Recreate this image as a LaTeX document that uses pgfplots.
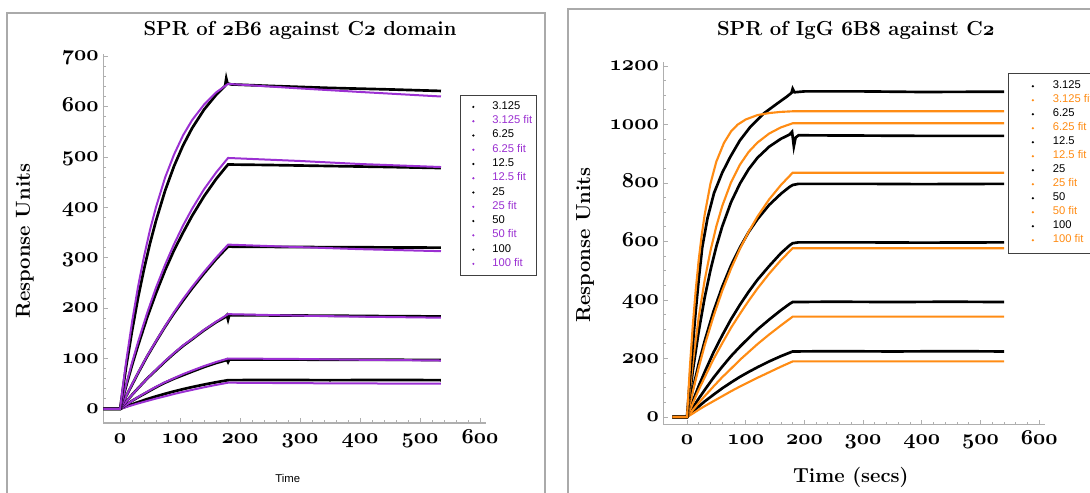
\RequirePackage{fix-cm}
\documentclass[border=0pt]{standalone}
\usepackage{fontspec}
\usepackage{pgfplots}
\pgfplotsset{compat=1.18}
\newfontfamily\arial{Liberation Sans}
\definecolor{purp}{RGB}{155,48,210}
\definecolor{orng}{RGB}{255,140,20}
\definecolor{axgray}{RGB}{175,175,175}
\definecolor{framegray}{RGB}{170,170,170}
\newcommand\osn[1]{{\boldmath$\mathnormal{#1}$}}
\newcommand\bigbf{\bfseries\fontsize{15.2}{18}\selectfont}
\pgfplotsset{
  sprbase/.style={
    scale only axis,
    axis x line*=bottom, axis y line*=left,
    xtick pos=bottom, ytick pos=left,
    axis line style={-, axgray, line width=0.8pt},
    tick align=inside,
    major tick length=3.5pt, minor tick length=2pt,
    tick style={axgray, line width=0.6pt},
    /pgf/number format/1000 sep={},
    xticklabel={\osn{\pgfmathprintnumber{\tick}}},
    yticklabel={\osn{\pgfmathprintnumber{\tick}}},
    tick label style={font=\fontsize{16}{19}\selectfont},
    xticklabel style={text height=11.5pt, text depth=3pt},
    yticklabel style={text height=7.1pt, text depth=0pt},
    legend cell align=left,
  },
}
\begin{document}
\begin{tikzpicture}[x=0.75pt, y=0.75pt]
\draw[framegray, line width=1.5pt] (7,-20) rectangle (545,480);
\draw[framegray, line width=1.5pt] (568,-20) rectangle (1110,483.7);
% ---------------- left panel ----------------
\begin{axis}[sprbase,
  at={(77.475pt,52.5pt)}, anchor=south west,
  width=287pt, height=277pt,
  xmin=-28, xmax=610, ymin=-28, ymax=705,
  xtick={0,100,...,600}, ytick={0,100,...,700},
  minor x tick num=4, minor y tick num=4,
  title={SPR of \osn{2}B\osn{6} against C\osn{2} domain},
  title style={at={(axis description cs:0.514,1.040)}, anchor=center, yshift=0pt, font=\bigbf},
  ylabel={\bigbf Response Units},
  every axis y label/.style={at={(axis description cs:-0.2046,0.492)}, anchor=center, rotate=90, font=\bigbf},
  xlabel={Time},
  xlabel style={at={(axis description cs:0.482,-0.1505)}, anchor=center, font=\arial\fontsize{8.5}{10}\selectfont},
  dat/.style={black, line width=2pt, no markers,
    legend image code/.code={\path[draw=none,fill=none] (-6.75pt,0pt) -- (14.25pt,0pt); \fill[black, draw=none] (0pt,0pt) circle (0.9pt);}},
  fit/.style={purp, line width=1.5pt, no markers,
    legend image code/.code={\path[draw=none,fill=none] (-6.75pt,0pt) -- (14.25pt,0pt); \fill[purp, draw=none] (0pt,0pt) circle (0.9pt);}},
  legend style={at={(0.932,0.887)}, anchor=north west, draw=black!75, line width=0.6pt, fill=white,
    inner xsep=3pt, inner ysep=3pt, font=\arial\fontsize{8.4}{10}\selectfont,
    nodes={inner sep=0pt, text height=7.2pt, text depth=3.5pt}},
]
\addplot[dat] coordinates {(-28,0)(0,0)(10,4.7)(20,9.1)(30,13.4)(45,19.4)(60,24.9)(75,30)(90,34.8)(105,39.2)(120,43.3)(140,48.3)(160,52.9)(180,57)(250,57.5)(350,57)(450,57.5)(535,57)};
\addlegendentry{3.125}
\addplot[fit] coordinates {(-28,0)(0,0)(10,3.7)(20,7.3)(30,10.8)(45,15.7)(60,20.6)(75,25)(90,29.6)(105,33.8)(120,37.7)(140,42.9)(160,47.6)(180,52)(300,51)(400,50.5)(535,50)};
\addlegendentry{\textcolor{purp}{3.125 fit}}
\addplot[dat] coordinates {(-28,0)(0,0)(10,8)(20,16)(30,23)(45,33)(60,43)(75,52)(90,60)(105,67)(120,74)(140,83)(160,91)(175,96)(178,98)(180,93)(182,98)(250,98)(350,97.5)(450,97.5)(535,97)};
\addlegendentry{6.25}
\addplot[fit] coordinates {(-28,0)(0,0)(10,8)(20,16)(30,23.5)(45,34)(60,44)(75,53)(90,61)(105,69)(120,76)(140,85)(160,93)(180,100)(300,99)(400,97.5)(535,96)};
\addlegendentry{\textcolor{purp}{6.25 fit}}
\addplot[dat] coordinates {(-28,0)(0,0)(10,14)(20,28)(30,41)(45,60)(60,77)(75,94)(90,110)(105,125)(120,138)(140,156)(160,172)(175,182)(178,186)(180,177)(182,186)(250,185.5)(350,185)(450,184)(535,183.5)};
\addlegendentry{12.5}
\addplot[fit] coordinates {(-28,0)(0,0)(10,14)(20,28)(30,41)(45,60)(60,78)(75,95)(90,111)(105,126)(120,139)(140,157)(160,173)(180,188)(300,185)(400,183)(535,181)};
\addlegendentry{\textcolor{purp}{12.5 fit}}
\addplot[dat] coordinates {(-28,0)(0,0)(10,25)(20,48)(30,71)(45,104)(60,134)(75,163)(90,190)(105,215)(120,239)(140,269)(160,297)(175,316)(180,322)(250,321.5)(350,321)(450,320.5)(535,320)};
\addlegendentry{25}
\addplot[fit] coordinates {(-28,0)(0,0)(10,25)(20,49)(30,72)(45,105)(60,135)(75,164)(90,192)(105,218)(120,242)(140,272)(160,300)(180,326)(300,321)(400,317)(535,313)};
\addlegendentry{\textcolor{purp}{25 fit}}
\addplot[dat] coordinates {(-28,0)(0,0)(10,45)(20,87)(30,126)(45,181)(60,230)(75,275)(90,315)(105,350)(120,383)(140,422)(160,456)(175,478)(180,485)(250,484)(350,482)(450,480)(535,478)};
\addlegendentry{50}
\addplot[fit] coordinates {(-28,0)(0,0)(10,48)(20,92)(30,133)(45,190)(60,241)(75,286)(90,327)(105,364)(120,397)(140,436)(160,469)(180,498)(300,492)(400,486)(535,480)};
\addlegendentry{\textcolor{purp}{50 fit}}
\addplot[dat] coordinates {(-28,0)(0,0)(5,42)(10,83)(20,155)(30,221)(40,278)(50,329)(60,374)(75,433)(90,482)(105,523)(120,557)(140,594)(160,623)(175,641)(177,656)(179,646)(185,644)(250,641)(350,637)(450,634)(535,631)};
\addlegendentry{100}
\addplot[fit] coordinates {(-28,0)(0,0)(5,48)(10,93)(20,173)(30,243)(40,303)(50,356)(60,401)(75,459)(90,505)(105,543)(120,573)(140,604)(160,628)(180,645)(300,636)(400,629)(535,620)};
\addlegendentry{\textcolor{purp}{100 fit}}
\end{axis}
% ---------------- right panel ----------------
\begin{axis}[sprbase,
  at={(497.625pt,51.075pt)}, anchor=south west,
  width=286.2pt, height=272.5pt,
  xmin=-40, xmax=610, ymin=-27, ymax=1215,
  xtick={0,100,...,600}, ytick={0,200,...,1200},
  minor x tick num=4, minor y tick num=3,
  title={SPR of IgG \osn{6}B\osn{8} against C\osn{2}},
  title style={at={(axis description cs:0.504,1.064)}, anchor=center, yshift=0pt, font=\bigbf},
  ylabel={\bigbf Response Units},
  every axis y label/.style={at={(axis description cs:-0.2054,0.495)}, anchor=center, rotate=90, font=\bigbf},
  xlabel={Time (secs)},
  xlabel style={at={(axis description cs:0.491,-0.1458)}, anchor=center, font=\bigbf},
  dat/.style={black, line width=2pt, no markers,
    legend image code/.code={\path[draw=none,fill=none] (-15pt,0pt) -- (15pt,0pt); \fill[black, draw=none] (0pt,0pt) circle (0.9pt);}},
  fit/.style={orng, line width=1.6pt, no markers,
    legend image code/.code={\path[draw=none,fill=none] (-15pt,0pt) -- (15pt,0pt); \fill[orng, draw=none] (0pt,0pt) circle (0.9pt);}},
  legend style={at={(0.904,0.969)}, anchor=north west, draw=black!75, line width=0.6pt, fill=white,
    inner xsep=3pt, inner ysep=4.5pt, font=\arial\fontsize{8.4}{10}\selectfont,
    nodes={inner sep=0pt, text height=7.1pt, text depth=3.4pt}},
]
\addplot[dat] coordinates {(-25,0)(0,0)(10,18)(20,36)(30,53)(45,76)(60,98)(75,118)(90,137)(105,154)(120,170)(140,190)(160,208)(175,220)(180,224)(250,225)(350,224)(450,225)(540,224)};
\addlegendentry{3.125}
\addplot[fit] coordinates {(-25,0)(0,0)(10,12)(20,25)(30,37)(45,54)(60,71)(75,88)(90,104)(105,119)(120,134)(140,153)(160,172)(180,190)(540,190)};
\addlegendentry{\textcolor{orng}{3.125 fit}}
\addplot[dat] coordinates {(-25,0)(0,0)(10,32)(20,63)(30,92)(45,134)(60,172)(75,208)(90,240)(105,270)(120,299)(140,333)(160,365)(175,387)(180,393)(250,394)(350,393)(450,394)(540,393)};
\addlegendentry{6.25}
\addplot[fit] coordinates {(-25,0)(0,0)(10,24)(20,48)(30,71)(45,104)(60,136)(75,165)(90,195)(105,222)(120,249)(140,282)(160,313)(180,343)(540,343)};
\addlegendentry{\textcolor{orng}{6.25 fit}}
\addplot[dat] coordinates {(-25,0)(0,0)(10,54)(20,106)(30,153)(45,220)(60,279)(75,334)(90,383)(105,428)(120,469)(140,516)(160,560)(175,587)(180,594)(190,597)(300,597)(400,596)(540,597)};
\addlegendentry{12.5}
\addplot[fit] coordinates {(-25,0)(0,0)(10,47)(20,93)(30,135)(45,197)(60,252)(75,305)(90,352)(105,397)(120,439)(140,490)(160,536)(180,577)(540,577)};
\addlegendentry{\textcolor{orng}{12.5 fit}}
\addplot[dat] coordinates {(-25,0)(0,0)(10,96)(20,182)(30,259)(45,360)(60,445)(75,518)(90,579)(105,632)(120,676)(140,725)(160,763)(175,787)(180,793)(190,797)(300,797)(400,796)(540,797)};
\addlegendentry{25}
\addplot[fit] coordinates {(-25,0)(0,0)(10,88)(20,169)(30,244)(45,343)(60,431)(75,507)(90,574)(105,633)(120,685)(140,744)(160,793)(180,835)(540,835)};
\addlegendentry{\textcolor{orng}{25 fit}}
\addplot[dat] coordinates {(-25,0)(0,0)(10,159)(20,293)(30,407)(40,502)(50,583)(60,651)(75,734)(90,797)(105,847)(120,886)(140,924)(160,951)(175,966)(179,975)(182,925)(185,955)(190,963)(300,962)(400,961)(540,961)};
\addlegendentry{50}
\addplot[fit] coordinates {(-25,0)(0,0)(10,187)(20,341)(30,466)(40,568)(50,652)(60,721)(75,802)(90,862)(105,906)(120,938)(140,969)(160,990)(180,1004)(540,1004)};
\addlegendentry{\textcolor{orng}{50 fit}}
\addplot[dat] coordinates {(-25,0)(0,0)(5,130)(10,250)(15,365)(20,470)(26,580)(35,680)(46,765)(60,835)(74,890)(90,945)(108,992)(131,1038)(154,1072)(170,1095)(178,1108)(180,1122)(183,1110)(200,1113)(300,1113)(400,1111)(540,1112)};
\addlegendentry{100}
\addplot[fit] coordinates {(-25,0)(0,0)(5,172)(10,316)(15,436)(20,537)(25,620)(30,690)(40,798)(50,873)(63,937)(75,976)(86,999)(100,1017)(120,1032)(140,1039)(160,1043)(180,1045)(540,1045)};
\addlegendentry{\textcolor{orng}{100 fit}}
\end{axis}
\pgfresetboundingbox
\useasboundingbox (0,0) rectangle (1090,493);
\end{tikzpicture}
\end{document}
